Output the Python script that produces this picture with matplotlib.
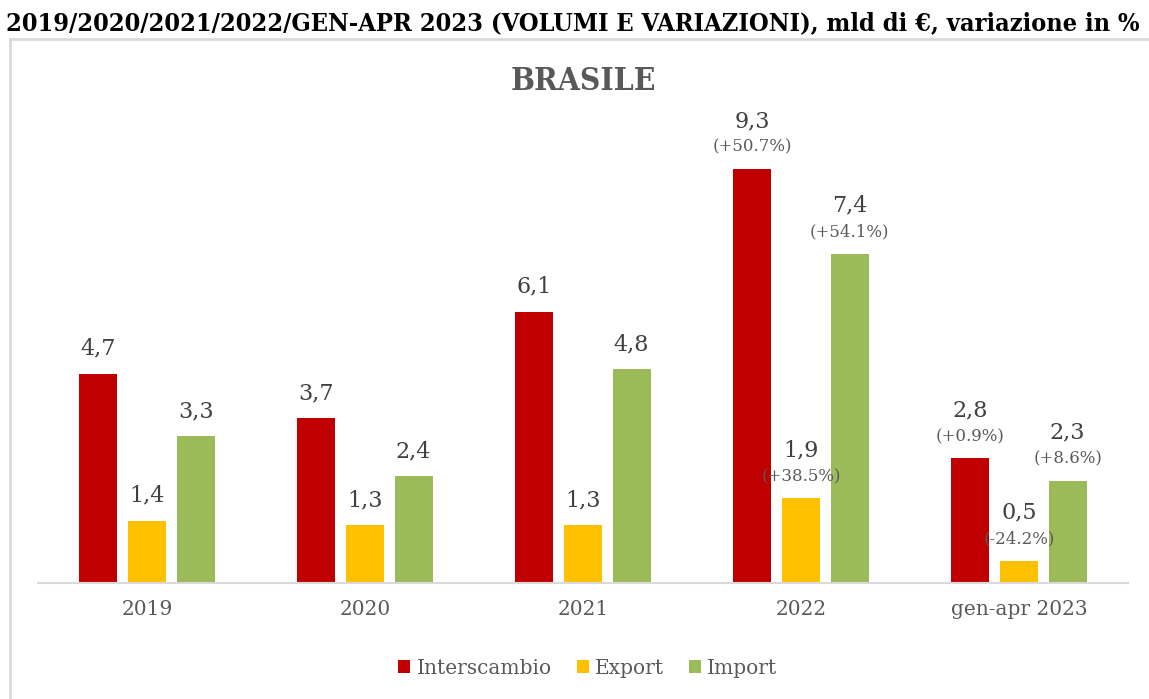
import matplotlib
matplotlib.use("Agg")
import matplotlib.pyplot as plt
from matplotlib import font_manager as fm
from matplotlib.lines import Line2D
from matplotlib.patches import Patch
import numpy as np

categories = ["2019", "2020", "2021", "2022", "gen-apr 2023"]
series_names = ["Interscambio", "Export", "Import"]
interscambio = [4.7, 3.7, 6.1, 9.3, 2.8]
export = [1.4, 1.3, 1.3, 1.9, 0.5]
imports = [3.3, 2.4, 4.8, 7.4, 2.3]
pct_interscambio = [None, None, None, "(+50.7%)", "(+0.9%)"]
pct_export = [None, None, None, "(+38.5%)", "(-24.2%)"]
pct_import = [None, None, None, "(+54.1%)", "(+8.6%)"]
colors = ["#C00000", "#FFC000", "#9BBB59"]

title_text = "2019/2020/2021/2022/GEN-APR 2023 (VOLUMI E VARIAZIONI), mld di €, variazione in %"
chart_title = "BRASILE"

W, H = 1149, 699
fig = plt.figure(figsize=(W / 100, H / 100), dpi=100)

# narrow bold font if available
narrow = None
for pref in ["LiberationSansNarrow-Bold", "DejaVuSerifCondensed-Bold", "DejaVuSansCondensed-Bold"]:
    for f in fm.fontManager.ttflist:
        if pref.lower() in f.fname.lower().replace(" ", ""):
            narrow = f.fname
            break
    if narrow:
        break
if narrow:
    bold_fp = fm.FontProperties(fname=narrow)
else:
    bold_fp = fm.FontProperties(family="DejaVu Serif", weight="bold")

body = "DejaVu Serif"

# frame (left and top borders only visible)
fig.add_artist(Line2D([10 / W, 10 / W], [1 - 39 / H, 0], color="#d9d9d9", lw=2))
fig.add_artist(Line2D([10 / W, 1], [1 - 39 / H, 1 - 39 / H], color="#d9d9d9", lw=2))

ax = fig.add_axes([38 / W, (H - 583) / H, (1128 - 38) / W, 445 / H])
x = np.arange(len(categories))
w = 0.175
off = 0.223
ymax = 10.0

for i, (vals, pcts, col) in enumerate(zip([interscambio, export, imports],
                                          [pct_interscambio, pct_export, pct_import], colors)):
    xs = x + (i - 1) * off
    ax.bar(xs, vals, width=w, color=col, label=series_names[i], zorder=2)
    for xi, v, p in zip(xs, vals, pcts):
        lab = f"{v:.1f}".replace(".", ",")
        if p is None:
            ax.annotate(lab, (xi, v), xytext=(0, 25 * 0.72),
                        textcoords="offset points", ha="center", va="center",
                        fontsize=16, family=body, color="#404040")
        else:
            ax.annotate(lab, (xi, v), xytext=(0, 48 * 0.72),
                        textcoords="offset points", ha="center", va="center",
                        fontsize=16, family=body, color="#404040")
            ax.annotate(p, (xi, v), xytext=(0, 22 * 0.72),
                        textcoords="offset points", ha="center", va="center",
                        fontsize=12, family=body, color="#595959")

ax.set_xlim(-0.5, len(categories) - 0.5)
ax.set_ylim(0, ymax)
ax.set_yticks([])
ax.set_xticks(x)
ax.set_xticklabels(categories, fontsize=14.5, family=body, color="#595959")
ax.tick_params(axis="x", length=0, pad=12)
for s in ["top", "right", "left"]:
    ax.spines[s].set_visible(False)
ax.spines["bottom"].set_color("#d9d9d9")
ax.spines["bottom"].set_linewidth(1.5)
ax.patch.set_alpha(0)

handles = [Patch(facecolor=c, edgecolor="none") for c in colors]
leg = fig.legend(handles, series_names, loc="center", bbox_to_anchor=(588 / W, 1 - 668 / H),
                 ncol=3, frameon=False, prop={"family": body, "size": 14.5},
                 handlelength=0.6, handleheight=0.6, handletextpad=0.3, columnspacing=1.25)
for t in leg.get_texts():
    t.set_color("#595959")

renderer = fig.canvas.get_renderer()

def fit_text(s, cx, cy, target_w, color, start=20):
    t = fig.text(cx / W, 1 - cy / H, s, ha="center", va="center", fontproperties=bold_fp,
                 fontsize=start, color=color)
    bb = t.get_window_extent(renderer)
    t.set_fontsize(start * target_w / bb.width)
    return t

fit_text(title_text, 573, 23, 1135, "black")
fit_text(chart_title, 583, 82, 145, "#595959")

fig.savefig("out.png", dpi=100)
